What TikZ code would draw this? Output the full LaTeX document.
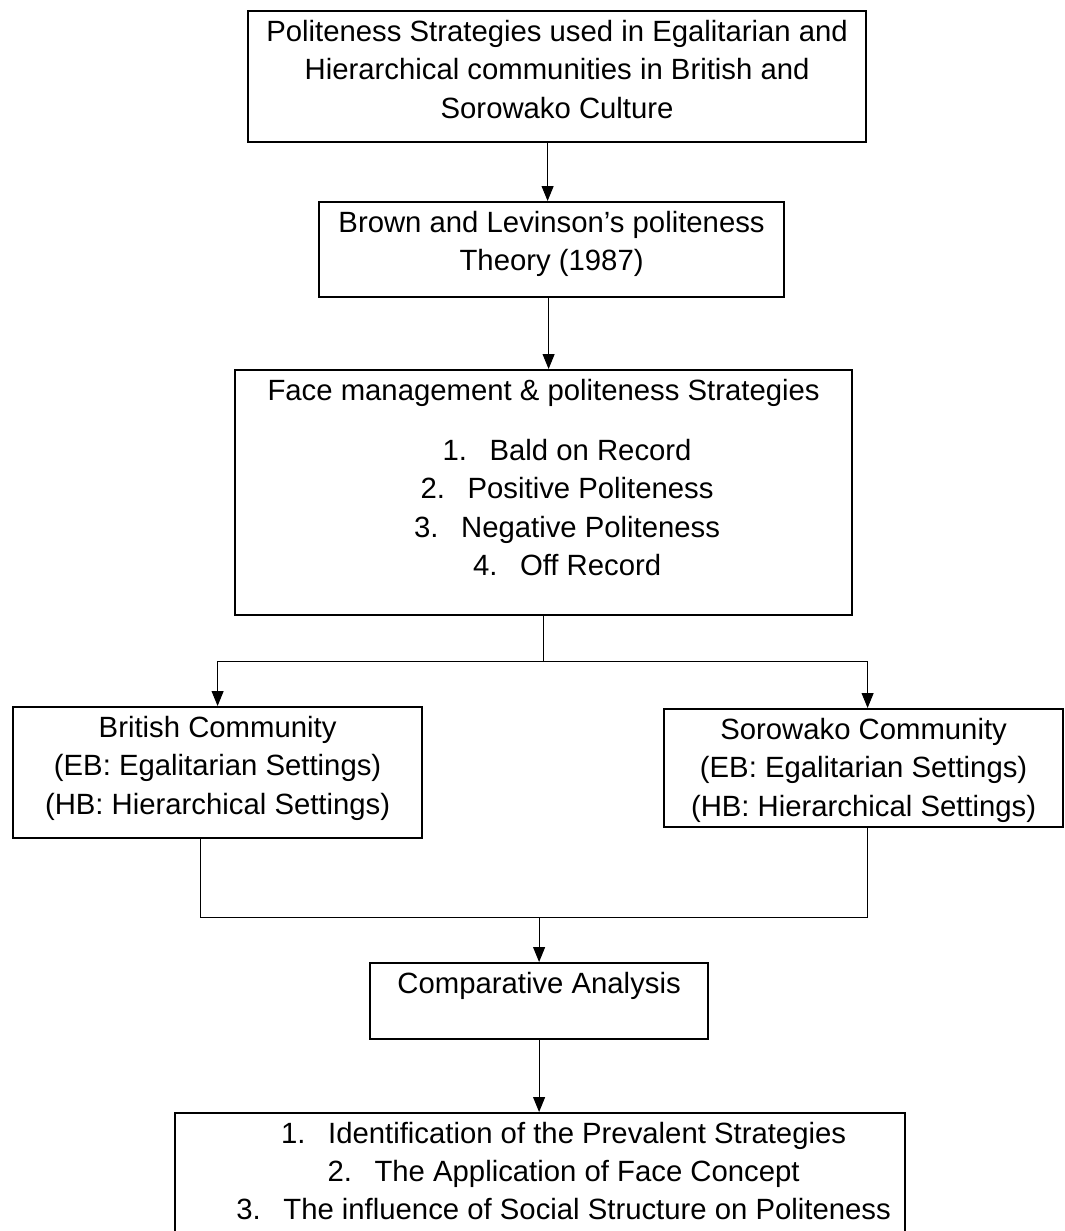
\documentclass[tikz,border=0pt]{standalone}
\usepackage{fontspec}
\setmainfont{Liberation Sans}
\usepackage{tikz}
\usetikzlibrary{arrows.meta}

% numbered line, shifted like a list indent
\newcommand{\numline}[2]{\hspace*{47pt}\makebox[47pt][l]{#1}#2}

\begin{document}
\begin{tikzpicture}[
    x=1pt, y=-1pt,
    font=\fontsize{29.3}{38.5}\selectfont,
    box_style/.style 2 args={draw, line width=2.2pt, inner sep=0pt,
      anchor=north west,
      execute at begin node={\begin{minipage}[c][#2][t]{#1}\centering
        \rule{0pt}{30pt}},
      execute at end node={\end{minipage}}},
    line_style/.style={line width=1pt},
    arrow_style/.style={line width=1pt,
      -{Triangle[length=15pt,width=12pt]}}
]
    \useasboundingbox (0,0) rectangle (1065,1231);
    \clip (0,0) rectangle (1065,1231);

    % --- Boites ---
    \node[box_style={618pt}{131pt}] (topic) at (247,10)
        {Politeness Strategies used in Egalitarian and\\
         Hierarchical communities in British and\\
         Sorowako Culture};
    \node[box_style={465pt}{95pt}] (theory) at (318,201)
        {Brown and Levinson’s politeness\\ Theory (1987)};
    \node[box_style={617pt}{245pt}] (strategies) at (234,369)
        {Face management \& politeness Strategies\\[21.5pt]
         \numline{1.}{Bald on Record}\\
         \numline{2.}{Positive Politeness}\\
         \numline{3.}{Negative Politeness}\\
         \numline{4.}{Off Record}};
    \node[box_style={409pt}{131pt}] (british) at (12,706)
        {British Community\\
         (EB: Egalitarian Settings)\\
         (HB: Hierarchical Settings)};
    \node[box_style={399pt}{118pt}] (sorowako) at (663,708)
        {Sorowako Community\\
         (EB: Egalitarian Settings)\\
         (HB: Hierarchical Settings)};
    \node[box_style={338pt}{76pt}] (analysis) at (369,962)
        {Comparative Analysis};
    \node[box_style={730pt}{125pt}] (findings) at (174,1112)
        {\numline{1.}{Identification of the Prevalent Strategies}\\[-0.5pt]
         \numline{2.}{The Application of Face Concept}\\[-0.5pt]
         \numline{3.}{The influence of Social Structure on Politeness}};

    % --- Fleches ---
    \draw[arrow_style] ([xshift=-4pt]theory.north |- topic.south)
        -- ([xshift=-4pt]theory.north);
    \draw[arrow_style] ([xshift=-3pt]theory.south)
        -- ([xshift=-3pt]theory.south |- strategies.north);

    % embranchement
    \draw[line_style] (strategies.south) -- (strategies.south |- 0,661)
        coordinate (split);
    \draw[arrow_style] (split) -| (british.north);
    \draw[arrow_style] (split) -| ([xshift=4pt]sorowako.north);

    % regroupement
    \coordinate (merge) at (analysis.north |- 0,917);
    \draw[line_style] ([xshift=-17pt]british.south) |- (merge)
        -| ([xshift=4pt]sorowako.south);
    \draw[arrow_style] (merge) -- (analysis.north);
    \draw[arrow_style] (analysis.south) -- (analysis.south |- findings.north);

\end{tikzpicture}
\end{document}
